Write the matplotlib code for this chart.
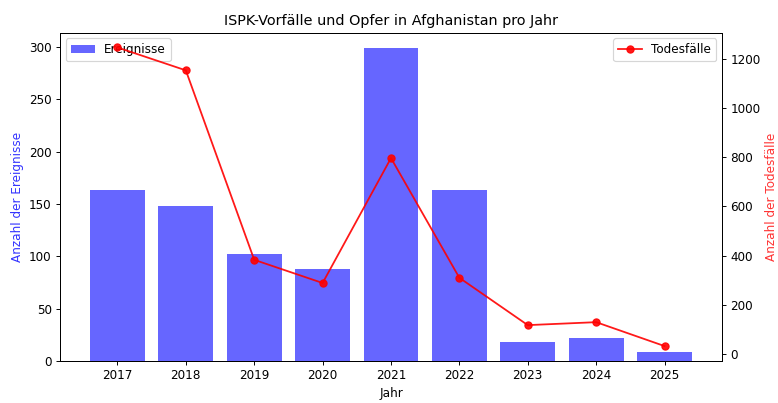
import matplotlib.pyplot as plt

years = [2017, 2018, 2019, 2020, 2021, 2022, 2023, 2024, 2025]
events = [163, 148, 102, 88, 299, 163, 18, 22, 9]
deaths = [1245, 1152, 383, 289, 796, 310, 118, 130, 33]

DPI = 86
fig = plt.figure(figsize=(779 / DPI, 403 / DPI), dpi=DPI)
ax1 = fig.add_axes([60 / 779, 1 - 361 / 403, 662 / 779, 328.5 / 403])

ax1.bar(years, events, color="blue", alpha=0.6, label="Ereignisse")
ax1.set_xlabel("Jahr")
ax1.set_ylabel("Anzahl der Ereignisse", color="blue", alpha=0.8)
ax1.set_xticks(years)
ax1.legend(loc="upper left")

ax2 = ax1.twinx()
ax2.plot(years, deaths, color="red", marker="o", alpha=0.9, label="Todesfälle")
ax2.set_ylabel("Anzahl der Todesfälle", color="red", alpha=0.8)
ax2.legend(loc="upper right")

ax1.set_title("ISPK-Vorfälle und Opfer in Afghanistan pro Jahr")

fig.savefig("out.png", dpi=DPI)
